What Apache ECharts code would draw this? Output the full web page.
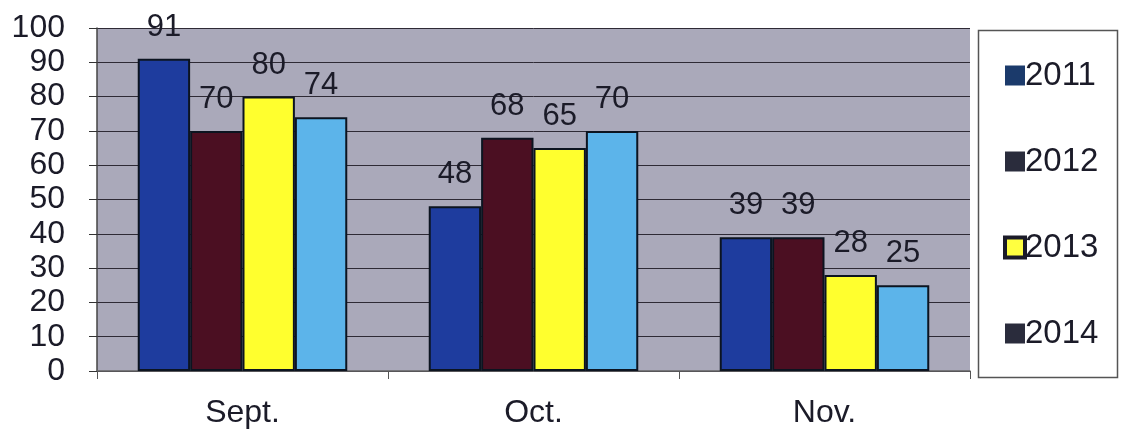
<!DOCTYPE html>
<html><head><meta charset="utf-8">
<script src="https://cdn.jsdelivr.net/npm/echarts@6/dist/echarts.min.js"></script>
<style>html,body{margin:0;padding:0;background:#fff}#c{width:1128px;height:439px}</style>
</head><body><div id="c"></div>
<script>
const categories = ['Sept.', 'Oct.', 'Nov.'];
const years = ['2011', '2012', '2013', '2014'];
const v2011 = [91, 48, 39];
const v2012 = [70, 68, 39];
const v2013 = [80, 65, 28];
const v2014 = [74, 70, 25];
const yTicks = [0, 10, 20, 30, 40, 50, 60, 70, 80, 90, 100];

const values = [v2011, v2012, v2013, v2014];
const colors = ['#1e3c9e', '#4b0f22', '#ffff2e', '#5cb4ea'];
const legendColors = ['#1b3a6b', '#2a2c3c', '#ffff40', '#2a2c3c'];
const FONT = 'Liberation Sans, Arial, sans-serif';
const TXT = '#1b1b28';

const chart = echarts.init(document.getElementById('c'));
chart.setOption({
  animation: false,
  backgroundColor: '#ffffff',
  textStyle: { fontFamily: FONT },
  graphic: [{
    type: 'rect', shape: { x: 978.5, y: 30.5, width: 139, height: 347 },
    style: { fill: '#fff', stroke: '#555', lineWidth: 1.5 }, z: 0
  }],
  legend: {
    orient: 'vertical', left: 998, top: 54, itemGap: 53,
    itemWidth: 20, itemHeight: 20, icon: 'rect',
    textStyle: { fontSize: 33, lineHeight: 33, color: TXT, fontFamily: FONT, padding: [0, 0, 0, -5] },
    data: years.map((y, i) => ({
      name: y,
      itemStyle: { color: legendColors[i], borderColor: TXT, borderWidth: i === 2 ? 4 : 0 }
    }))
  },
  grid: {
    left: 97, top: 28, right: 158, bottom: 68,
    show: true, backgroundColor: '#aaa9ba', borderWidth: 0
  },
  xAxis: {
    type: 'category', data: categories,
    axisLine: { show: true, lineStyle: { color: '#666', width: 1.5 } },
    axisTick: { show: true, length: 8, lineStyle: { color: '#555' } },
    axisLabel: { fontSize: 32, color: TXT, margin: 26, fontFamily: FONT }
  },
  yAxis: {
    type: 'value', min: yTicks[0], max: yTicks[yTicks.length - 1], interval: 10,
    axisLine: { show: true, lineStyle: { color: '#444', width: 1.5 } },
    axisTick: { show: true, length: 8, lineStyle: { color: '#333' } },
    splitLine: { show: true, lineStyle: { color: '#2e2a35', width: 1 } },
    axisLabel: { fontSize: 32, color: TXT, margin: 32, fontFamily: FONT, lineHeight: 32 }
  },
  series: years.map((y, i) => ({
    name: y, type: 'bar', data: values[i],
    barGap: '0%', barCategoryGap: '28%',
    itemStyle: { color: colors[i], borderColor: '#0c1420', borderWidth: 2 },
    label: { show: true, position: 'top', distance: 16, fontSize: 31, color: TXT, fontFamily: FONT }
  }))
});
</script></body></html>
